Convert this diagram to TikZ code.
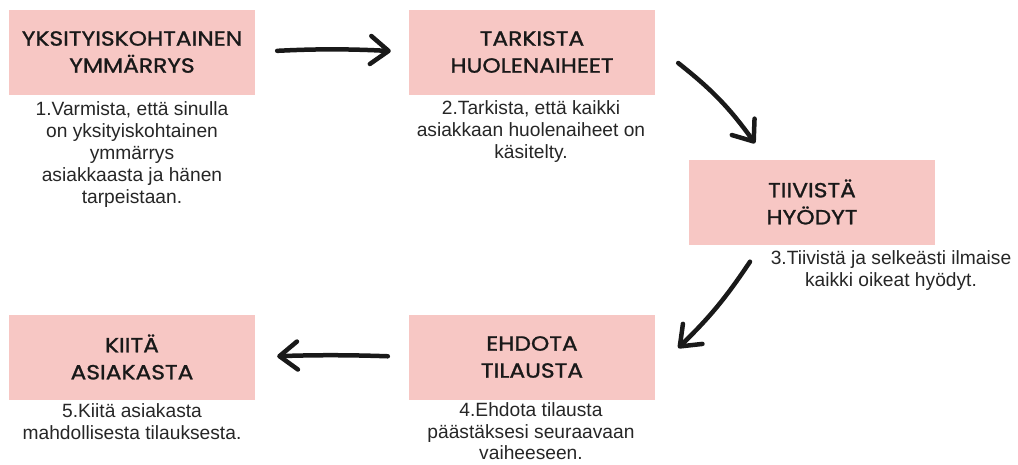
\documentclass[tikz,border=0pt]{standalone}
\usepackage{fontspec}
\setmainfont{Liberation Sans}
\newfontfamily\headfont{Poppins}[FakeStretch=1.14,FakeBold=1.2]
\usetikzlibrary{arrows.meta}
\definecolor{boxpink}{HTML}{F7C7C4}

\begin{document}
\begin{tikzpicture}[x=1pt,y=-1pt,box/.style={fill=boxpink, draw=none, minimum width=246pt, minimum height=85pt, align=center, font=\headfont\fontsize{20.5}{27}\selectfont, text=black!90}]
    \tikzset{caption/.style={align=center, inner sep=0pt, font=\fontsize{19.2}{22}\selectfont, text=black!85, anchor=north}}
    \tikzset{sketch/.style={line width=4.5pt, line cap=round, black!90, -{Straight Barb[length=18pt,width=28pt,line width=4.5pt,round]}}}
    \useasboundingbox (0,0) rectangle (1018,464);
    %boxes
    \node[box] (ymm) at (132,52) {YKSITYISKOHTAINEN\\YMMÄRRYS};
    \node[box] (huol) at (532,52) {TARKISTA\\HUOLENAIHEET};
    \node[box] (hyod) at (812,202) {TIIVISTÄ\\HYÖDYT};
    \node[box] (tila) at (532,357) {EHDOTA\\TILAUSTA};
    \node[box] (kiit) at (132,357) {KIITÄ\\ASIAKASTA};
    %captions
    \node[caption] (ymmtxt) at (132,101.5) {1.Varmista, että sinulla\\on yksityiskohtainen\\ymmärrys\\asiakkaasta ja hänen\\tarpeistaan.};
    \node[caption] (huoltxt) at (531,100.5) {2.Tarkista, että kaikki\\asiakkaan huolenaiheet on\\käsitelty.};
    \node[caption] (hyodtxt) at (891,250.5) {3.Tiivistä ja selkeästi ilmaise\\kaikki oikeat hyödyt.};
    \node[caption, font=\fontsize{19.2}{21.5}\selectfont] (tilatxt) at (531,402.5) {4.Ehdota tilausta\\päästäksesi seuraavaan\\vaiheeseen.};
    \node[caption] (kiittxt) at (132,403.5) {5.Kiitä asiakasta\\mahdollisesta tilauksesta.};
    %arrow ends
    \coordinate (a2s) at ([shift={(23,11)}]huol.east);
    \coordinate (a2e) at ([shift={(-57,-16)}]hyod.north);
    \coordinate (a3s) at ([shift={(-62,17)}]hyod.south);
    \coordinate (a3e) at ([shift={(23,-9)}]tila.east);
    %arrows
    \draw[sketch, shorten <=22pt, shorten >=18pt] (ymm.east) to[bend left=3] (huol.west);
    \draw[sketch] (a2s) to[bend left=8] (a2e);
    \draw[sketch] (a3s) to[bend left=6] (a3e);
    \draw[sketch, shorten <=21pt, shorten >=22pt] (tila.west) to[bend right=2] (kiit.east);
\end{tikzpicture}
\end{document}
